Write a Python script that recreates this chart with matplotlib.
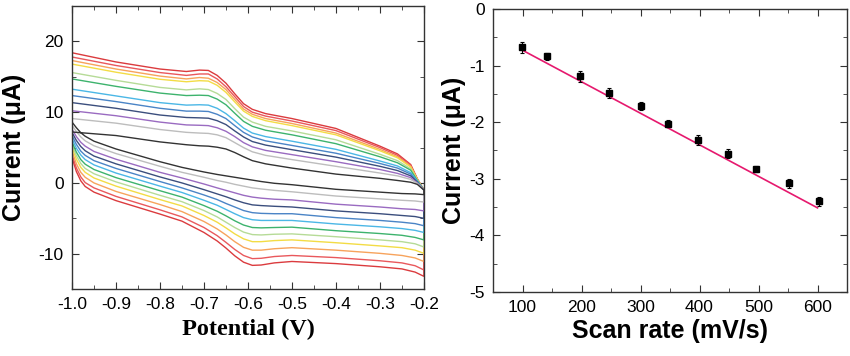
import numpy as np
import matplotlib
matplotlib.use("Agg")
import matplotlib.pyplot as plt
from matplotlib.ticker import MultipleLocator, FormatStrFormatter

plt.rcParams['font.family'] = ['Liberation Sans', 'DejaVu Sans']
plt.rcParams['axes.unicode_minus'] = False

# potential grids (V): forward branch -1.0 -> -0.2, reverse branch -0.2 -> -1.0
pot_up = [-1.0, -0.9, -0.8, -0.74, -0.71, -0.69, -0.67, -0.65, -0.63, -0.61,
          -0.59, -0.56, -0.5, -0.4, -0.3, -0.26, -0.23, -0.215, -0.2]
pot_lo = [-0.2, -0.22, -0.25, -0.3, -0.4, -0.5, -0.54, -0.57, -0.59, -0.61, -0.63,
          -0.65, -0.67, -0.7, -0.75, -0.8, -0.9, -0.95, -0.97, -0.98, -0.99, -1.0]

# currents (uA), outer curve first
up_red = [18.4, 17.1, 16.1, 15.75, 15.95, 15.9, 15.2, 14.1, 12.6, 11.2, 10.4, 9.8, 9.1, 7.7, 5.2, 4.1, 2.6, 0.6, -1.0]
lo_red = [-13.2, -12.6, -12.15, -11.85, -11.4, -11.1, -11.3, -11.6, -11.65, -11.2, -10.3, -9.2, -8.2, -7.0, -5.4, -4.4, -2.5, -1.3, -0.5, 0.3, 1.6, 3.6]
up_red2 = [17.8, 16.6, 15.6, 15.2, 15.4, 15.4, 14.7, 13.6, 12.2, 10.8, 10.0, 9.45, 8.75, 7.4, 5.0, 3.9, 2.5, 0.55, -1.0]
lo_red2 = [-12.3, -11.7, -11.3, -11.0, -10.55, -10.25, -10.4, -10.65, -10.7, -10.25, -9.4, -8.4, -7.45, -6.3, -4.8, -3.8, -1.9, -0.7, 0.05, 0.85, 2.1, 4.0]
up_orange = [17.3, 16.1, 15.1, 14.7, 14.9, 14.8, 14.2, 13.2, 11.8, 10.45, 9.7, 9.1, 8.4, 7.05, 4.75, 3.7, 2.35, 0.5, -1.0]
lo_orange = [-11.1, -10.6, -10.25, -9.95, -9.5, -9.15, -9.3, -9.5, -9.5, -9.1, -8.3, -7.35, -6.5, -5.45, -4.05, -3.05, -1.2, 0.0, 0.8, 1.5, 2.7, 4.5]
up_yellow = [16.8, 15.65, 14.65, 14.3, 14.45, 14.4, 13.8, 12.8, 11.45, 10.15, 9.4, 8.8, 8.1, 6.8, 4.55, 3.55, 2.25, 0.5, -1.0]
lo_yellow = [-9.95, -9.5, -9.15, -8.9, -8.45, -8.05, -8.15, -8.3, -8.3, -7.9, -7.2, -6.35, -5.55, -4.6, -3.25, -2.35, -0.45, 0.7, 1.5, 2.2, 3.35, 5.0]
up_lgreen = [15.6, 14.5, 13.5, 13.15, 13.3, 13.2, 12.65, 11.8, 10.5, 9.3, 8.6, 8.0, 7.35, 6.1, 4.05, 3.15, 2.0, 0.4, -1.0]
lo_lgreen = [-9.05, -8.6, -8.3, -8.05, -7.6, -7.2, -7.25, -7.35, -7.3, -6.95, -6.3, -5.55, -4.8, -3.9, -2.65, -1.75, 0.15, 1.3, 2.05, 2.75, 3.85, 5.4]
up_green = [14.7, 13.65, 12.7, 12.35, 12.4, 12.35, 11.85, 11.05, 9.85, 8.7, 8.0, 7.45, 6.8, 5.55, 3.7, 2.85, 1.8, 0.35, -1.0]
lo_green = [-8.05, -7.7, -7.4, -7.15, -6.75, -6.25, -6.3, -6.35, -6.3, -5.95, -5.35, -4.65, -4.0, -3.2, -2.0, -1.1, 0.75, 1.9, 2.65, 3.3, 4.35, 5.8]
up_cyan = [13.25, 12.3, 11.35, 11.0, 11.05, 11.0, 10.55, 9.8, 8.8, 7.75, 7.05, 6.55, 5.9, 4.75, 3.1, 2.4, 1.45, 0.25, -1.0]
lo_cyan = [-7.0, -6.7, -6.45, -6.2, -5.8, -5.3, -5.3, -5.3, -5.2, -4.9, -4.35, -3.75, -3.15, -2.45, -1.35, -0.45, 1.4, 2.55, 3.3, 3.95, 4.9, 6.25]
up_blue = [12.35, 11.5, 10.55, 10.15, 10.15, 10.1, 9.7, 9.1, 8.1, 7.15, 6.5, 5.95, 5.3, 4.2, 2.75, 2.1, 1.25, 0.15, -1.0]
lo_blue = [-6.05, -5.75, -5.55, -5.3, -4.9, -4.35, -4.35, -4.3, -4.2, -3.9, -3.4, -2.9, -2.35, -1.7, -0.7, 0.2, 2.05, 3.15, 3.9, 4.5, 5.45, 6.7]
up_navy = [11.35, 10.55, 9.6, 9.25, 9.2, 9.15, 8.8, 8.25, 7.35, 6.5, 5.85, 5.35, 4.7, 3.65, 2.35, 1.75, 1.0, 0.1, -1.0]
lo_navy = [-5.0, -4.75, -4.6, -4.35, -3.95, -3.4, -3.3, -3.2, -3.1, -2.8, -2.4, -1.95, -1.55, -0.95, 0.0, 0.85, 2.7, 3.8, 4.55, 5.15, 6.0, 7.15]
up_purple = [10.2, 9.5, 8.6, 8.2, 8.15, 8.1, 7.8, 7.3, 6.55, 5.7, 5.1, 4.6, 4.0, 3.0, 1.9, 1.35, 0.75, 0.0, -1.0]
lo_purple = [-3.95, -3.75, -3.65, -3.4, -3.0, -2.4, -2.3, -2.15, -2.0, -1.75, -1.4, -1.05, -0.7, -0.15, 0.7, 1.5, 3.35, 4.45, 5.2, 5.75, 6.55, 7.6]
up_gray = [9.1, 8.45, 7.55, 7.15, 7.05, 7.0, 6.8, 6.4, 5.7, 5.0, 4.4, 3.9, 3.3, 2.35, 1.4, 1.0, 0.5, -0.05, -1.0]
lo_gray = [-2.7, -2.55, -2.45, -2.25, -1.85, -1.25, -1.05, -0.85, -0.7, -0.45, -0.2, 0.1, 0.35, 0.8, 1.5, 2.35, 4.15, 5.25, 5.95, 6.5, 7.25, 8.15]
up_black = [7.2, 6.7, 5.8, 5.4, 5.25, 5.2, 5.05, 4.8, 4.3, 3.7, 3.15, 2.7, 2.1, 1.25, 0.65, 0.35, 0.1, -0.2, -1.0]
lo_black = [-1.65, -1.55, -1.5, -1.3, -0.9, -0.25, -0.05, 0.2, 0.4, 0.6, 0.8, 1.0, 1.2, 1.55, 2.2, 3.0, 4.8, 5.9, 6.6, 7.1, 7.8, 8.6]

curves_up = [up_red, up_red2, up_orange, up_yellow, up_lgreen, up_green,
             up_cyan, up_blue, up_navy, up_purple, up_gray, up_black]
curves_lo = [lo_red, lo_red2, lo_orange, lo_yellow, lo_lgreen, lo_green,
             lo_cyan, lo_blue, lo_navy, lo_purple, lo_gray, lo_black]
colors = ['#db3b3e', '#e9585c', '#f7a35c', '#f3dc45', '#b6db97', '#3db36d',
          '#4bb7e6', '#4a84c6', '#3b4e7d', '#9a6bc1', '#bdbdbd', '#333333']

# scan rate vs peak current
scan_rate = [99, 141, 198, 246, 300, 347, 397, 448, 496, 551, 603]
peak_current = [-0.68, -0.84, -1.19, -1.48, -1.72, -2.03, -2.32, -2.56, -2.83, -3.08, -3.40]
peak_err = [0.1, 0.06, 0.1, 0.09, 0.07, 0.06, 0.09, 0.08, 0.06, 0.08, 0.08]
fit_slope = -0.00557
fit_intercept = -0.173
fit_range = [96, 600]

fig = plt.figure(figsize=(8.5, 3.56), dpi=100)
ax1 = fig.add_axes([0.0847, 0.188, 0.414, 0.795])
ax2 = fig.add_axes([0.58, 0.18, 0.4165, 0.795])

for up, lo, c in zip(curves_up, curves_lo, colors):
    ax1.plot(pot_up + pot_lo, up + lo, color=c, lw=1.0)

ax1.set_xlim(-1.0, -0.2)
ax1.set_ylim(-15, 25)
ax1.xaxis.set_major_locator(MultipleLocator(0.1))
ax1.xaxis.set_minor_locator(MultipleLocator(0.05))
ax1.xaxis.set_major_formatter(FormatStrFormatter('%.1f'))
ax1.set_yticks([-10, 0, 10, 20])
ax1.yaxis.set_minor_locator(MultipleLocator(5))
ax1.set_xlabel('Potential (V)', family=['Liberation Serif'], fontweight='bold',
               fontsize=17.5, labelpad=5)
ax1.set_ylabel('Current (μA)', fontweight='bold', fontsize=18, labelpad=9)

# linear fit line + points
xf = np.array(fit_range)
ax2.plot(xf, fit_slope * xf + fit_intercept, color='#e6196e', lw=1.2)
ax2.errorbar(scan_rate, peak_current, yerr=peak_err, fmt='s', color='black',
             ms=5, elinewidth=0.8, capsize=1.5, capthick=0.8)
ax2.set_xlim(50, 650)
ax2.set_ylim(-5, 0)
ax2.set_xticks([100, 200, 300, 400, 500, 600])
ax2.xaxis.set_minor_locator(MultipleLocator(50))
ax2.yaxis.set_major_locator(MultipleLocator(1))
ax2.yaxis.set_minor_locator(MultipleLocator(0.5))
ax2.set_xlabel('Scan rate (mV/s)', fontweight='bold', fontsize=18, labelpad=3)
ax2.set_ylabel('Current (μA)', fontweight='bold', fontsize=18, labelpad=2)

for ax in (ax1, ax2):
    for s in ax.spines.values():
        s.set_color('#333333')
        s.set_linewidth(1.0)
    ax.tick_params(which='both', direction='in', top=True, right=True,
                   labelsize=12.5, pad=6, color='#333333')
    ax.tick_params(which='major', length=5)
    ax.tick_params(which='minor', length=3)

fig.savefig('out.png', dpi=100)
